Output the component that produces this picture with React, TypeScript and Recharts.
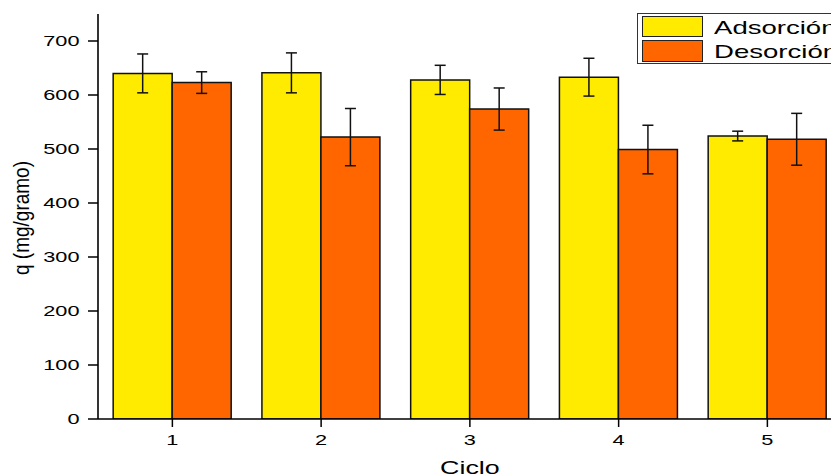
import { BarChart, Bar, XAxis, YAxis, ErrorBar, Legend } from "recharts";

const FONT = "'Liberation Sans', Arial, sans-serif";
const STRETCH = 1.45;

const cycles = ["1", "2", "3", "4", "5"];
const adsorcion = [640, 641, 628, 633, 524];
const adsorcionErr = [36, 37, 27, 35, 9];
const desorcion = [623, 522, 574, 499, 518];
const desorcionErr = [20, 53, 39, 45, 48];
const yTicks = [0, 100, 200, 300, 400, 500, 600, 700];
const yMinorTicks = [50, 150, 250, 350, 450, 550, 650, 750];
const xMinorTicks = [0.5, 1.5, 2.5, 3.5, 4.5, 5.5];

const data = cycles.map((c, i) => ({
  ciclo: c,
  ads: adsorcion[i],
  adsErr: adsorcionErr[i],
  des: desorcion[i],
  desErr: desorcionErr[i],
}));

const YTick = ({ x, y, payload }: any) => (
  <g transform={`translate(${x},${y}) scale(${STRETCH},1)`}>
    <text x={0} y={0} dy={5.3} textAnchor="end" fontSize={15} fontFamily={FONT} fill="#000">
      {payload.value}
    </text>
  </g>
);

const XTick = ({ x, y, payload }: any) => (
  <g transform={`translate(${x},${y}) scale(${STRETCH},1)`}>
    <text x={0} y={0} dy={16.5} textAnchor="middle" fontSize={15} fontFamily={FONT} fill="#000">
      {payload.value}
    </text>
  </g>
);

const NoTick = () => <g />;

const XTitle = ({ viewBox }: any) => (
  <g transform={`translate(${viewBox.x + viewBox.width / 2},${viewBox.y + 54.5}) scale(${STRETCH},1)`}>
    <text x={0} y={0} textAnchor="middle" fontSize={18.5} fontFamily={FONT} fill="#000">
      Ciclo
    </text>
  </g>
);

const YTitle = ({ viewBox }: any) => (
  <g transform={`translate(29.3,${viewBox.y + viewBox.height / 2 + 1.5}) scale(1.2,1) rotate(-90)`}>
    <text x={0} y={0} textAnchor="middle" fontSize={19} fontFamily={FONT} fill="#000">
      q (mg/gramo)
    </text>
  </g>
);

const LegendBox = ({ payload }: any) => (
  <div
    style={{
      position: "relative",
      width: 230,
      height: 51,
      border: "1px solid #333",
      boxSizing: "border-box",
      background: "#fff",
    }}
  >
    {(payload || []).map((p: any, i: number) => (
      <div key={p.value} style={{ position: "absolute", left: 3.5, top: 1.5 + i * 24.3 }}>
        <div
          style={{
            position: "absolute",
            left: 0,
            top: 0,
            width: 61,
            height: 21.6,
            boxSizing: "border-box",
            border: "1.5px solid #222",
            background: p.color,
          }}
        />
        <span
          style={{
            position: "absolute",
            left: 72,
            top: 2,
            display: "inline-block",
            fontFamily: FONT,
            fontSize: 19,
            lineHeight: "19px",
            color: "#000",
            whiteSpace: "nowrap",
            transform: `scaleX(${STRETCH})`,
            transformOrigin: "0 0",
          }}
        >
          {p.value}
        </span>
      </div>
    ))}
  </div>
);

export default function App() {
  return (
    <div
      style={{
        position: "absolute",
        left: 0,
        top: 0,
        width: 831,
        height: 476,
        overflow: "hidden",
        background: "#fff",
      }}
    >
      <BarChart
        width={850}
        height={476}
        data={data}
        margin={{ top: 14, right: 8.25, left: 0, bottom: 0 }}
        barCategoryGap="10.2%"
        barGap={0}
      >
        <XAxis
          xAxisId="minor"
          type="number"
          domain={[0.5, 5.5]}
          ticks={xMinorTicks}
          allowDataOverflow
          height={0}
          axisLine={false}
          tickSize={5}
          tick={NoTick}
          tickLine={{ stroke: "#000", strokeWidth: 1.5 }}
        />
        <XAxis
          dataKey="ciclo"
          height={57}
          tickSize={8}
          tickMargin={2}
          tick={XTick}
          axisLine={{ stroke: "#000", strokeWidth: 1.6 }}
          tickLine={{ stroke: "#000", strokeWidth: 1.5 }}
          label={{ content: XTitle }}
        />
        <YAxis
          yAxisId="minor"
          type="number"
          domain={[0, 750]}
          ticks={yMinorTicks}
          allowDataOverflow
          width={0}
          axisLine={false}
          tickSize={5}
          tick={NoTick}
          tickLine={{ stroke: "#000", strokeWidth: 1.5 }}
        />
        <YAxis
          type="number"
          domain={[0, 750]}
          ticks={yTicks}
          allowDataOverflow
          width={98}
          tickSize={10}
          tickMargin={8.5}
          tick={YTick}
          axisLine={{ stroke: "#000", strokeWidth: 1.6 }}
          tickLine={{ stroke: "#000", strokeWidth: 1.5 }}
          label={{ content: YTitle }}
        />
        <Legend
          layout="horizontal"
          verticalAlign="middle"
          content={LegendBox}
          wrapperStyle={{ left: 637.3, top: 13.3, width: 230, height: 51 }}
        />
        <Bar dataKey="ads" name="Adsorción" fill="#FFEB00" stroke="#111" strokeWidth={1.5} isAnimationActive={false}>
          <ErrorBar dataKey="adsErr" direction="y" width={5.5} stroke="#111" strokeWidth={1.5} />
        </Bar>
        <Bar dataKey="des" name="Desorción" fill="#FF6600" stroke="#111" strokeWidth={1.5} isAnimationActive={false}>
          <ErrorBar dataKey="desErr" direction="y" width={5.5} stroke="#111" strokeWidth={1.5} />
        </Bar>
      </BarChart>
    </div>
  );
}
